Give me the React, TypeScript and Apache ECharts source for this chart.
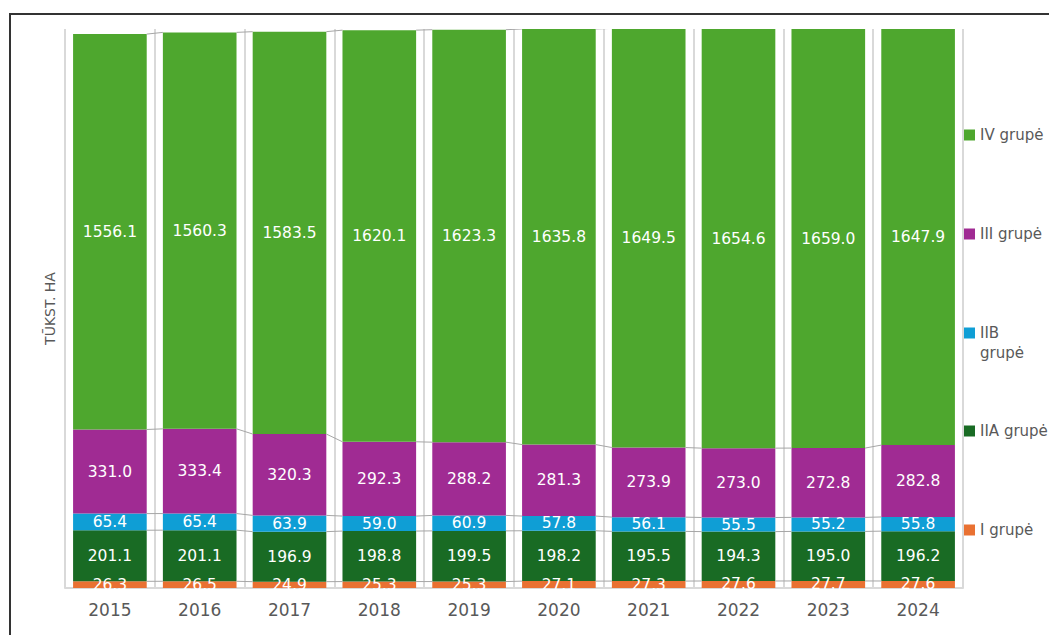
import React, { useEffect, useRef } from "react";
import * as echarts from "echarts";

const categories = ["2015", "2016", "2017", "2018", "2019", "2020", "2021", "2022", "2023", "2024"];
const grupeI = [26.3, 26.5, 24.9, 25.3, 25.3, 27.1, 27.3, 27.6, 27.7, 27.6];
const grupeIIA = [201.1, 201.1, 196.9, 198.8, 199.5, 198.2, 195.5, 194.3, 195.0, 196.2];
const grupeIIB = [65.4, 65.4, 63.9, 59.0, 60.9, 57.8, 56.1, 55.5, 55.2, 55.8];
const grupeIII = [331.0, 333.4, 320.3, 292.3, 288.2, 281.3, 273.9, 273.0, 272.8, 282.8];
const grupeIV = [1556.1, 1560.3, 1583.5, 1620.1, 1623.3, 1635.8, 1649.5, 1654.6, 1659.0, 1647.9];
const seriesNames = ["I grupė", "IIA grupė", "IIB grupė", "III grupė", "IV grupė"];
const yAxisName = "TŪKST. HA";
const yMax = 2200;

const colors = ["#E97132", "#196B24", "#0F9ED5", "#A02B93", "#4EA72E"];
const FONT = "DejaVu Sans, sans-serif";
const GRAY = "#595959";
const BAR_RATIO = 0.82;

export default function App() {
  const ref = useRef<HTMLDivElement>(null);

  useEffect(() => {
    document.body.style.margin = "0";
    if (!ref.current) return;
    const chart = echarts.init(ref.current, undefined, { renderer: "svg" });
    const values = [grupeI, grupeIIA, grupeIIB, grupeIII, grupeIV];

    // cumulative stack levels per category
    const cum = categories.map((_, i) => {
      let s = 0;
      return values.map((arr) => (s += arr[i]));
    });
    const connData = categories.slice(0, -1).map((_, i) => [i, ...cum[i], ...cum[i + 1]]);

    const barSeries = values.map((arr, k) => ({
      type: "bar",
      name: seriesNames[k],
      stack: "total",
      data: arr,
      barWidth: BAR_RATIO * 100 + "%",
      itemStyle: { color: colors[k] },
      label: {
        show: true,
        position: "inside",
        color: "#ffffff",
        fontFamily: FONT,
        fontSize: 15.5,
        formatter: (p: any) => Number(p.value).toFixed(1),
      },
      z: 2,
    }));

    const legendCenters = [530, 431, 333, 234, 135];
    const legends = seriesNames.map((name, k) => ({
      data: [name],
      orient: "vertical",
      left: 964,
      top: legendCenters[k] - 10,
      padding: 0,
      itemWidth: 11,
      itemHeight: 11,
      itemGap: 0,
      icon: "rect",
      selectedMode: false,
      formatter: (n: string) => (n === "IIB grupė" ? "IIB" : n),
      textStyle: { color: GRAY, fontSize: 15, fontFamily: FONT, lineHeight: 20 },
    }));

    chart.setOption({
      animation: false,
      grid: { left: 65, right: 86, top: 29, bottom: 47 },
      legend: legends,
      xAxis: {
        type: "category",
        data: categories,
        axisLine: { lineStyle: { color: "#d9d9d9", width: 2 } },
        axisTick: { show: false },
        splitLine: { show: true, lineStyle: { color: "#d9d9d9", width: 2 } },
        axisLabel: { color: GRAY, fontSize: 17, fontFamily: FONT, margin: 13 },
      },
      yAxis: {
        type: "value",
        min: 0,
        max: yMax,
        name: yAxisName,
        nameLocation: "middle",
        nameGap: 8,
        nameTextStyle: { color: GRAY, fontSize: 14, fontFamily: FONT },
        axisLabel: { show: false },
        axisLine: { show: false },
        axisTick: { show: false },
        splitLine: { show: false },
      },
      graphic: [
        {
          type: "rect",
          z: 100,
          shape: { x: 60, y: 589, width: 910, height: 11 },
          style: { fill: "#ffffff" },
        },
        {
          type: "rect",
          z: 101,
          shape: { x: 10, y: 14, width: 1200, height: 800 },
          style: { fill: "none", stroke: "#333333", lineWidth: 2 },
        },
        {
          type: "text",
          z: 101,
          left: 980,
          top: 345,
          style: { text: "grupė", fill: GRAY, fontSize: 15, fontFamily: FONT },
        },
      ],
      series: [
        ...barSeries,
        {
          type: "custom",
          name: "series-lines",
          clip: true,
          silent: true,
          z: 3,
          data: connData,
          encode: { x: 0, y: 1 },
          renderItem: (params: any, api: any) => {
            const i = api.value(0);
            const catW = api.size([1, 0])[0];
            const half = (catW * BAR_RATIO) / 2;
            const children: any[] = [];
            for (let k = 0; k < 5; k++) {
              const a = api.coord([i, api.value(1 + k)]);
              const b = api.coord([i + 1, api.value(6 + k)]);
              children.push({
                type: "line",
                shape: { x1: a[0] + half, y1: a[1], x2: b[0] - half, y2: b[1] },
                style: { stroke: "#a6a6a6", lineWidth: 1 },
              });
            }
            return { type: "group", children };
          },
        },
      ],
    });
    return () => chart.dispose();
  }, []);

  return <div ref={ref} style={{ width: 1049, height: 635 }} />;
}
